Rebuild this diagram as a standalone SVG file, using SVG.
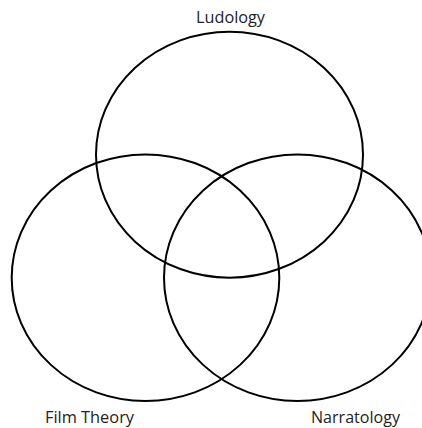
<svg xmlns="http://www.w3.org/2000/svg" width="422" height="428" viewBox="0 0 422 428">
<style>
.set{fill:none;stroke:#000;stroke-width:2}
.lbl{font-family:"Open Sans","Liberation Sans",sans-serif;font-size:16px;fill:#222}
</style>
<rect width="422" height="428" fill="#fff"/>
<g id="ludology">
<ellipse class="set" cx="229.5" cy="154.7" rx="133.5" ry="123"/>
<text class="lbl" x="196" y="23" textLength="69" lengthAdjust="spacingAndGlyphs">Ludology</text>
</g>
<g id="film-theory">
<ellipse class="set" cx="145.5" cy="277.7" rx="133.8" ry="123.3"/>
<text class="lbl" x="45" y="423" textLength="89" lengthAdjust="spacingAndGlyphs">Film Theory</text>
</g>
<g id="narratology">
<ellipse class="set" cx="297.5" cy="277.7" rx="133.5" ry="123.3"/>
<text class="lbl" x="311" y="423" textLength="89" lengthAdjust="spacingAndGlyphs">Narratology</text>
</g>
<g id="connectors"/>
</svg>
